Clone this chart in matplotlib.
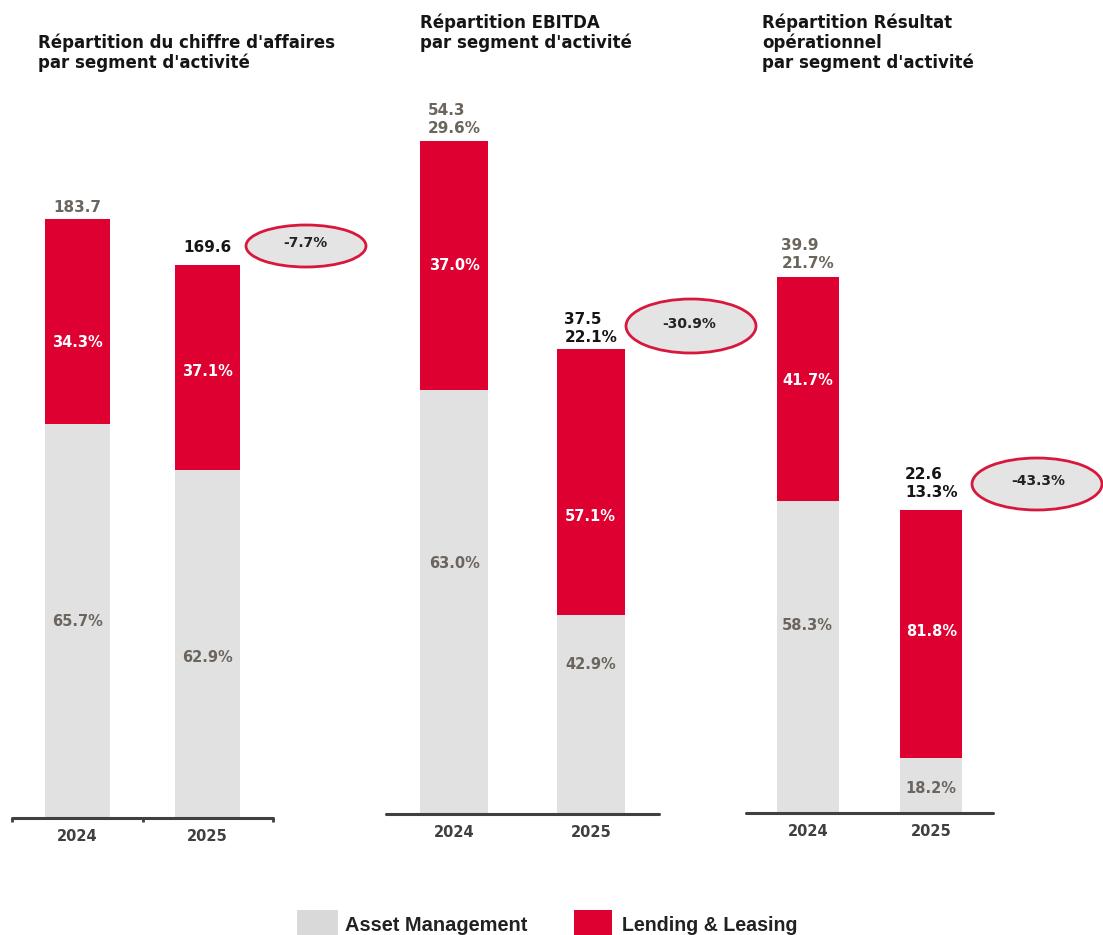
import matplotlib
matplotlib.use("Agg")
import matplotlib.pyplot as plt
from matplotlib.patches import Ellipse, Rectangle

# ---------------- data ----------------
years = ["2024", "2025"]
titles = [
    "Répartition du chiffre d'affaires\npar segment d'activité",
    "Répartition EBITDA\npar segment d'activité",
    "Répartition Résultat\nopérationnel\npar segment d'activité",
]
totals_ca = [183.7, 169.6]
am_share_ca = [65.7, 62.9]
ll_share_ca = [34.3, 37.1]

totals_ebitda = [54.3, 37.5]
margin_ebitda = [29.6, 22.1]
am_share_ebitda = [63.0, 42.9]
ll_share_ebitda = [37.0, 57.1]

totals_ro = [39.9, 22.6]
margin_ro = [21.7, 13.3]
am_share_ro = [58.3, 18.2]
ll_share_ro = [41.7, 81.8]

change_pct = [-7.7, -30.9, -43.3]
legend_labels = ["Asset Management", "Lending & Leasing"]

# ---------------- style ----------------
W, H = 1103, 935
RED = "#dd0030"
GREY = "#e1e1e1"
LEG_GREY = "#d9d9d9"
LBL_GREY = "#6c655e"
DARK = "#151515"
AXIS = "#404040"
FONT = ["DejaVu Sans"]

plt.rcParams["font.family"] = FONT
fig = plt.figure(figsize=(W / 100, H / 100), dpi=100)


def px_rect(x0, x1, top, bottom):
    return [x0 / W, 1 - bottom / H, (x1 - x0) / W, (bottom - top) / H]


panels = [
    dict(rect=px_rect(12, 273, 100, 818), ymax=220.2, totals=totals_ca, margin=None,
         am=am_share_ca, ll=ll_share_ca, ticks=True,
         am_frac=[0.50, 0.46], ll_frac=[0.40, 0.48], top_off=[12, 17],
         title_xy=(38, 33), ell=(306, 246, 120, 42), ell_txt=(305, 243)),
    dict(rect=px_rect(386, 659, 100, 814), ymax=57.6, totals=totals_ebitda, margin=margin_ebitda,
         am=am_share_ebitda, ll=ll_share_ebitda, ticks=False,
         am_frac=[0.59, 0.75], ll_frac=[0.50, 0.37], top_off=[21, 21],
         title_xy=(420, 13), ell=(691, 326, 130, 54), ell_txt=(689, 324)),
    dict(rect=px_rect(746, 993, 100, 813), ymax=53.1, totals=totals_ro, margin=margin_ro,
         am=am_share_ro, ll=ll_share_ro, ticks=False,
         am_frac=[0.60, 0.44], ll_frac=[0.54, 0.51], top_off=[23, 26],
         title_xy=(762, 13), ell=(1037, 484, 130, 52), ell_txt=(1038, 481)),
]

x = [0, 1]
bw = 0.5
for i, p in enumerate(panels):
    ax = fig.add_axes(p["rect"])
    tot = p["totals"]
    am_vals = [t * s / 100 for t, s in zip(tot, p["am"])]
    ll_vals = [t * s / 100 for t, s in zip(tot, p["ll"])]
    ax.bar(x, am_vals, width=bw, color=GREY, zorder=2)
    ax.bar(x, ll_vals, width=bw, bottom=am_vals, color=RED, zorder=2)
    ax.set_xlim(-0.5, 1.5)
    ax.set_ylim(0, p["ymax"])
    for s in ["top", "left", "right"]:
        ax.spines[s].set_visible(False)
    ax.spines["bottom"].set_color(AXIS)
    ax.spines["bottom"].set_linewidth(2.2)
    ax.spines["bottom"].set_capstyle("round")
    ax.set_yticks([])
    ax.set_xticks(x)
    ax.set_xticklabels(years, fontsize=10.5, fontweight="bold", color=AXIS)
    ax.tick_params(axis="x", which="major", length=0, pad=8)
    if p["ticks"]:
        ax.set_xticks([-0.5, 0.5, 1.5], minor=True)
        ax.tick_params(axis="x", which="minor", length=3, width=2, color=AXIS, direction="out")
    ax.patch.set_alpha(0)

    for j in range(2):
        ya = am_vals[j] * p["am_frac"][j]
        ax.text(x[j], ya, f"{p['am'][j]:.1f}%", ha="center", va="center",
                fontsize=10.5, fontweight="bold", color=LBL_GREY, zorder=3)
        yl = am_vals[j] + ll_vals[j] * p["ll_frac"][j]
        ax.text(x[j], yl, f"{p['ll'][j]:.1f}%", ha="center", va="center",
                fontsize=10.5, fontweight="bold", color="white", zorder=3)
        col = LBL_GREY if j == 0 else DARK
        s = f"{tot[j]:.1f}"
        if p["margin"] is not None:
            s += f"\n{p['margin'][j]:.1f}%"
        ax.annotate(s, xy=(x[j], tot[j]), xytext=(0, p["top_off"][j] * 0.72),
                    textcoords="offset points", ha="center", va="center",
                    multialignment="left", fontsize=11, fontweight="bold",
                    color=col, linespacing=1.25, annotation_clip=False)

    tx, ty = p["title_xy"]
    fig.text(tx / W, 1 - ty / H, titles[i], ha="left", va="top", fontsize=12,
             fontweight="bold", color=DARK, linespacing=1.12)

    ex, ey, ew, eh = p["ell"]
    e = Ellipse((ex / W, 1 - ey / H), ew / W, eh / H, transform=fig.transFigure,
                facecolor="#e4e4e4", edgecolor="#d8173c", linewidth=2.0, zorder=5)
    fig.add_artist(e)
    etx, ety = p["ell_txt"]
    fig.text(etx / W, 1 - ety / H, f"{change_pct[i]:.1f}%", ha="center", va="center",
             fontsize=10, fontweight="bold", color="#222222", zorder=6)

# legend
leg_font = ["DejaVu Sans Condensed", "Liberation Sans"]
renderer = fig.canvas.get_renderer()
for (lx, lw, col, lab, txx, target_w) in [(297, 41, LEG_GREY, legend_labels[0], 345, 182),
                                           (574, 38, RED, legend_labels[1], 622, 175)]:
    r = Rectangle((lx / W, 1 - 945 / H), lw / W, 35 / H, transform=fig.transFigure,
                  facecolor=col, edgecolor="none")
    fig.add_artist(r)
    t = fig.text(txx / W, 1 - 931 / H, lab, ha="left", va="baseline", fontsize=16,
                 fontweight="bold", color="#222222", family=leg_font)
    wpx = t.get_window_extent(renderer).width
    t.set_fontsize(min(17, 16 * target_w / wpx))

fig.savefig("out.png", dpi=100)
